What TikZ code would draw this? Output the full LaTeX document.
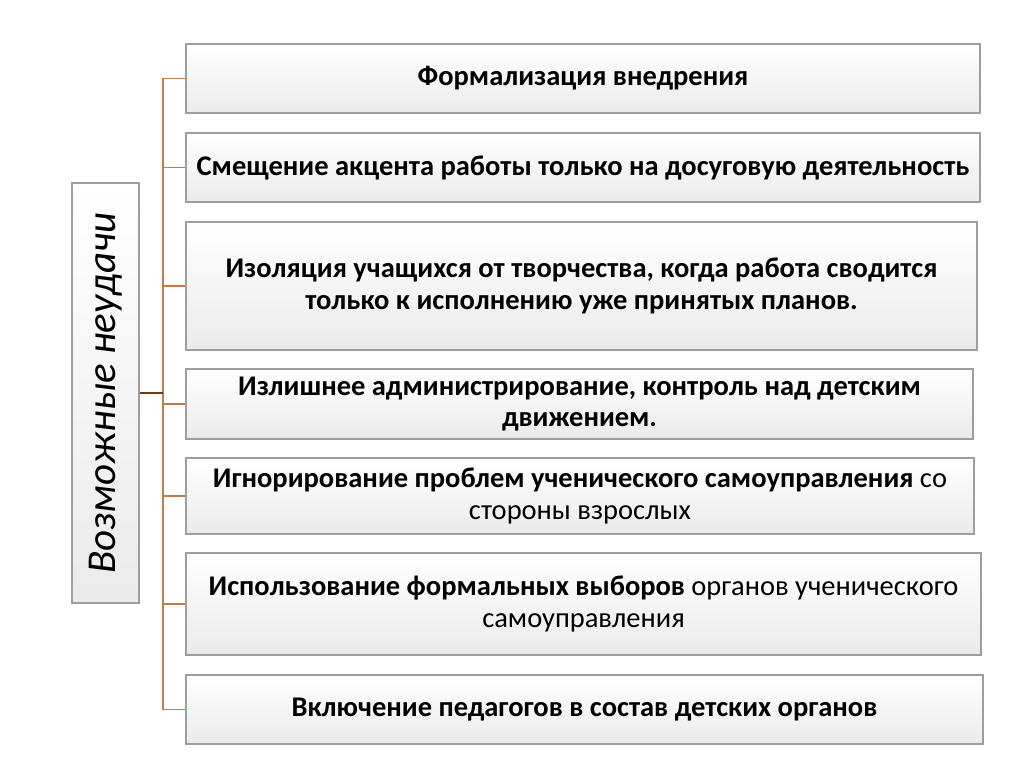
\documentclass[tikz,border=0pt]{standalone}
\usepackage{fontspec}
\setmainfont{Carlito}

\begin{document}
\begin{tikzpicture}[x=1pt, y=-1pt,
    box/.style={draw=black!38, line width=1.3pt, top color=white, bottom color=black!8,
        inner sep=0pt, align=center, font=\fontsize{28.5}{31.5}\selectfont},
    branch/.style={draw={rgb,255:red,196;green,124;blue,78}, line width=1.2pt},
    stem/.style={draw={rgb,255:red,105;green,58;blue,30}, line width=1.5pt}]
    \useasboundingbox[fill=white] (0,0) rectangle (1024,767);
    \node[box, minimum width=67, minimum height=420, font=\fontsize{41}{46}\itshape]
        (lbl) at (105.5,393) {\rotatebox{90}{Возможные неудачи}};
    \coordinate (tr) at (163,0);
    \node[box, minimum width=794, minimum height=69] (b1) at (583,78.5)
        {\textbf{Формализация внедрения}};
    \node[box, minimum width=794, minimum height=69] (b2) at (583,167.5)
        {\textbf{Смещение акцента работы только на досуговую деятельность}};
    \node[box, minimum width=791, minimum height=128] (b3) at (581.5,286)
        {\textbf{Изоляция учащихся от творчества, когда работа сводится}\\
         \textbf{только к исполнению уже принятых планов.}};
    \node[box, minimum width=787, minimum height=70] (b4) at (579.5,404)
        {\textbf{Излишнее администрирование, контроль над детским}\\
         \textbf{движением.}};
    \node[box, minimum width=788, minimum height=76] (b5) at (580,496)
        {\textbf{Игнорирование проблем ученического самоуправления} со\\
         стороны взрослых};
    \node[box, minimum width=795, minimum height=102] (b6) at (583.5,604)
        {\textbf{Использование формальных выборов} органов ученического\\
         самоуправления};
    \node[box, minimum width=797, minimum height=69] (b7) at (584.5,709.5)
        {\textbf{Включение педагогов в состав детских органов}};
    % connectors
    \draw[branch] (b1.west -| tr) -- (b7.west -| tr);
    \foreach \i in {1,...,7}
        \draw[branch] (b\i.west) -- (b\i.west -| tr);
    \draw[stem] (lbl.east) -- (lbl.east -| tr);
\end{tikzpicture}
\end{document}
